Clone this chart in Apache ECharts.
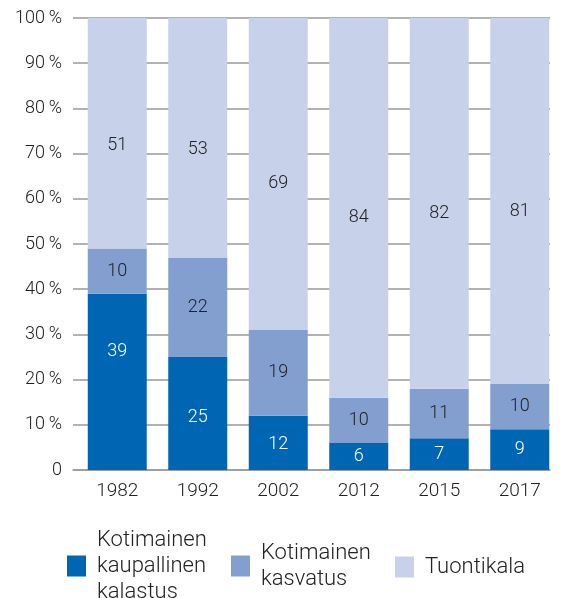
<!DOCTYPE html>
<html><head><meta charset="utf-8">
<script src="https://cdn.jsdelivr.net/npm/echarts@6/dist/echarts.min.js"></script>
<style>html,body{margin:0;padding:0;background:#fff}#c{width:573px;height:598px}</style>
</head><body><div id="c"></div>
<script>
const categories = ['1982','1992','2002','2012','2015','2017'];
const commercial = [39, 25, 12, 6, 7, 9];
const farmed = [10, 22, 19, 10, 11, 10];
const imported = [51, 53, 69, 84, 82, 81];
const seriesNames = ['Kotimainen\nkaupallinen\nkalastus', 'Kotimainen\nkasvatus', 'Tuontikala'];
const yTicks = ['0','10\u2009%','20\u2009%','30\u2009%','40\u2009%','50\u2009%','60\u2009%','70\u2009%','80\u2009%','90\u2009%','100\u2009%'];

const FONT = 'Roboto';
const colors = ['#0066b3', '#829fd0', '#c7d1ea'];
const chart = echarts.init(document.getElementById('c'));

function mk(name, vals, color, labelColor, offsets) {
  return {
    name: name, type: 'bar', stack: 'all', barWidth: 59, z: 3,
    xAxisIndex: 1, yAxisIndex: 1,
    itemStyle: { color: color },
    label: { show: true, position: 'inside', color: labelColor, fontFamily: FONT, fontWeight: 300, fontSize: 18 },
    data: vals.map((v, i) => offsets && offsets[i] ? { value: v, label: { offset: offsets[i] } } : v)
  };
}

function legend(idx, left, top) {
  return {
    data: [seriesNames[idx]], left: left, top: top, orient: 'horizontal',
    itemWidth: 19, itemHeight: 21, icon: 'rect',
    textStyle: { fontFamily: FONT, fontWeight: 300, fontSize: 22, color: '#222', lineHeight: 26, padding: [0,0,0,6] },
    selectedMode: false
  };
}

chart.setOption({
  animation: false,
  color: colors,
  grid: [
    { left: 73, right: 23, top: 18, bottom: 128 },
    { left: 77, right: 13, top: 18, bottom: 128 }
  ],
  xAxis: [
    { type: 'category', gridIndex: 0, data: categories, show: true,
      axisTick: { show: false }, axisLabel: { show: false },
      axisLine: { lineStyle: { color: '#999', width: 1.5 } } },
    { type: 'category', gridIndex: 1, data: categories,
      axisTick: { show: false }, axisLine: { show: false },
      axisLabel: { color: '#222', fontFamily: FONT, fontWeight: 300, fontSize: 19, margin: 12 } }
  ],
  yAxis: [
    { type: 'value', gridIndex: 0, min: 0, max: 100, interval: 10,
      axisLine: { show: false }, axisTick: { show: false },
      splitLine: { lineStyle: { color: '#999', width: 1.5 } },
      axisLabel: { color: '#222', fontFamily: FONT, fontWeight: 300, fontSize: 18, margin: 11,
        formatter: v => yTicks[Math.round(v / 10)] } },
    { type: 'value', gridIndex: 1, min: 0, max: 100, interval: 10, show: false,
      splitLine: { show: false } }
  ],
  legend: [legend(0, 62, 522), legend(1, 226, 535), legend(2, 390, 549)],
  series: [
    mk(seriesNames[0], commercial, colors[0], '#fff', [[0,-30],[0,4],[0,2],null,null,null]),
    mk(seriesNames[1], farmed, colors[1], '#222', null),
    mk(seriesNames[2], imported, colors[2], '#222', [[0,12],[0,12],[0,10],[0,10],[0,10],[0,10]])
  ]
});
</script></body></html>
